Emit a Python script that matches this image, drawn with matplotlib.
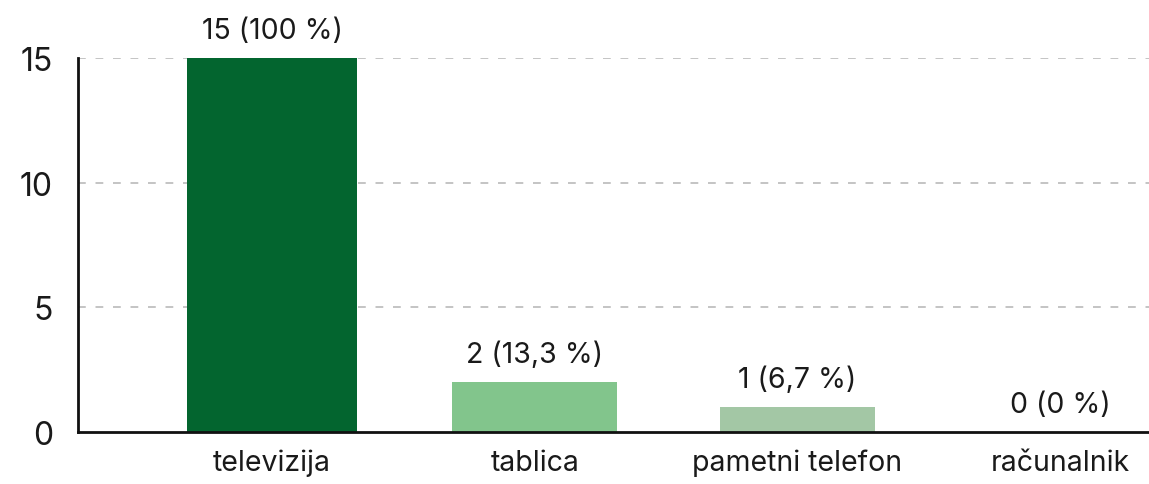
import matplotlib
matplotlib.use("Agg")
import matplotlib.pyplot as plt

categories = ["televizija", "tablica", "pametni telefon", "računalnik"]
counts = [15, 2, 1, 0]
percent_labels = ["100 %", "13,3 %", "6,7 %", "0 %"]
y_ticks = [0, 5, 10, 15]

bar_colors = ["#03652f", "#82c58c", "#a3c7a5", "#a3c7a5"]
bar_widths = [0.65, 0.63, 0.59, 0.59]

plt.rcParams["font.family"] = ["Inter", "DejaVu Sans"]

fig = plt.figure(figsize=(11.49, 4.85), dpi=100)
ax = fig.add_axes([78 / 1149, 1 - 433 / 485, 1 - 78 / 1149, (433 - 59) / 485])

x = list(range(len(categories)))
ax.bar(x, counts, width=bar_widths, color=bar_colors, zorder=2)

for xi, c, p in zip(x, counts, percent_labels):
    ax.annotate(f"{c} ({p})", (xi, c), xytext=(0, 10), textcoords="offset points",
                ha="center", va="bottom", fontsize=20.5, color="#1a1a1a")

ax.set_xlim(-0.739, 3.339)
ax.set_ylim(0, 15)
ax.set_yticks(y_ticks)
ax.set_yticklabels([str(t) for t in y_ticks], fontsize=23, color="#1a1a1a")
ax.set_xticks(x)
ax.set_xticklabels(categories, fontsize=20.5, color="#1a1a1a")
ax.tick_params(axis="both", length=0)
ax.tick_params(axis="y", pad=18)
ax.tick_params(axis="x", pad=12)

for t in y_ticks[1:]:
    ax.axhline(t, color="#c4c4c4", linestyle=(0, (4, 5)), linewidth=1.4, zorder=1)

for side in ["top", "right"]:
    ax.spines[side].set_visible(False)
for side in ["left", "bottom"]:
    ax.spines[side].set_linewidth(2)
    ax.spines[side].set_color("#111111")
ax.spines["left"].set_zorder(3)
ax.spines["bottom"].set_zorder(3)

fig.savefig("out.png", dpi=100)
